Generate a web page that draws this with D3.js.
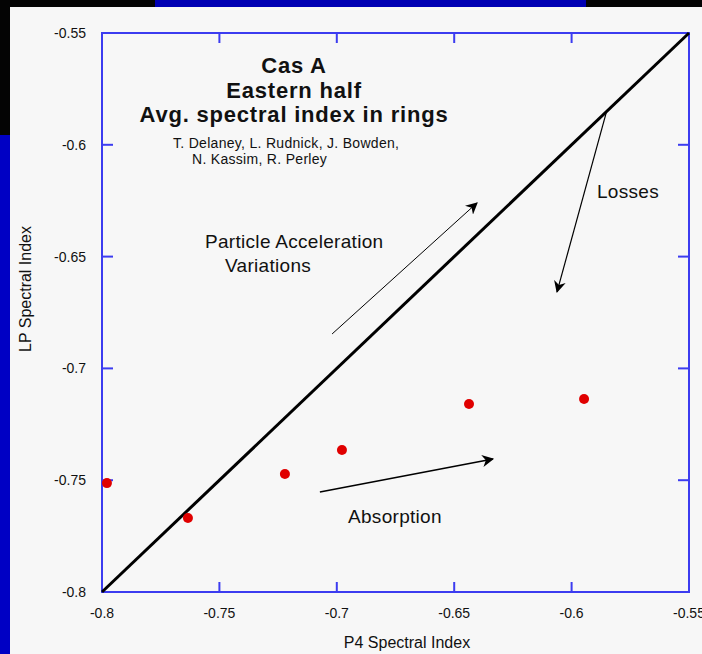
<!DOCTYPE html>
<html>
  <head>
    <title>Cas A spectral index</title>
    <script src="https://d3js.org/d3.v7.min.js"></script>
    <style>
      body { margin: 0; background: #040404; }
      svg { display: block; }
      text { font-family: "Liberation Sans", Arial, sans-serif; fill: #111; }
    </style>
  </head>

  <body>
    <svg width="702" height="654"></svg>

    <script type="text/javascript">
      // ring averages (P4 vs LP spectral index)
      var p4Index = [-0.7979, -0.7634, -0.7221, -0.6978, -0.6437, -0.5947];
      var lpIndex = [-0.7513, -0.7669, -0.7472, -0.7365, -0.7159, -0.7137];

      var tickValues = [-0.8, -0.75, -0.7, -0.65, -0.6, -0.55];
      var tickLabels = ["-0.8", "-0.75", "-0.7", "-0.65", "-0.6", "-0.55"];

      var titleLines = ["Cas A", "Eastern half", "Avg. spectral index in rings"];
      var authorLines = ["T. Delaney, L. Rudnick, J. Bowden,", "N. Kassim, R. Perley"];

      // annotation arrows in data units: [x1, y1, x2, y2]
      var accelArrow = [-0.702, -0.6846, -0.6403, -0.626];
      var lossArrow = [-0.5853, -0.5858, -0.6062, -0.6658];
      var absorbArrow = [-0.7072, -0.7553, -0.6335, -0.7405];

      var svg = d3.select("svg");

      // background panels
      svg.append("rect").attr("x", 155).attr("y", 0).attr("width", 431).attr("height", 7).attr("fill", "#0000b4");
      svg.append("rect").attr("x", 0).attr("y", 135).attr("width", 10).attr("height", 519).attr("fill", "#0000c4");
      svg.append("rect").attr("x", 10).attr("y", 7).attr("width", 692).attr("height", 647).attr("fill", "#f7f7f7");

      var pLeft = 102, pTop = 33, pRight = 689, pBottom = 592;
      var x = d3.scaleLinear().domain([-0.8, -0.55]).range([pLeft, pRight]);
      var y = d3.scaleLinear().domain([-0.8, -0.55]).range([pBottom, pTop]);

      var axisColor = "#3c3cf0";

      // frame
      svg.append("rect")
        .attr("x", pLeft).attr("y", pTop)
        .attr("width", pRight - pLeft).attr("height", pBottom - pTop)
        .attr("fill", "none").attr("stroke", axisColor).attr("stroke-width", 2);

      // inward ticks on all four sides
      var inner = tickValues.slice(1, -1);
      var tk = svg.append("g").attr("stroke", axisColor).attr("stroke-width", 2);
      inner.forEach(function (v) {
        tk.append("line").attr("x1", x(v)).attr("x2", x(v)).attr("y1", pBottom).attr("y2", pBottom - 10);
        tk.append("line").attr("x1", x(v)).attr("x2", x(v)).attr("y1", pTop).attr("y2", pTop + 10);
        tk.append("line").attr("y1", y(v)).attr("y2", y(v)).attr("x1", pLeft).attr("x2", pLeft + 11);
        tk.append("line").attr("y1", y(v)).attr("y2", y(v)).attr("x1", pRight).attr("x2", pRight - 11);
      });

      // tick labels
      tickValues.forEach(function (v, i) {
        svg.append("text")
          .attr("x", x(v)).attr("y", 618)
          .attr("text-anchor", "middle")
          .style("font-size", "14px")
          .text(tickLabels[i]);
        svg.append("text")
          .attr("x", 86).attr("y", y(v) + 5)
          .attr("text-anchor", "end")
          .style("font-size", "14px")
          .text(tickLabels[i]);
      });

      // axis titles
      svg.append("text")
        .attr("x", 407).attr("y", 648)
        .attr("text-anchor", "middle")
        .style("font-size", "16px")
        .text("P4 Spectral Index");
      svg.append("text")
        .attr("transform", "translate(31,289) rotate(-90)")
        .attr("text-anchor", "middle")
        .style("font-size", "16px")
        .text("LP Spectral Index");

      // y = x reference line
      svg.append("line")
        .attr("x1", x(-0.8)).attr("y1", y(-0.8))
        .attr("x2", x(-0.55)).attr("y2", y(-0.55))
        .attr("stroke", "#000").attr("stroke-width", 3);

      // arrows
      svg.append("defs").append("marker")
        .attr("id", "head")
        .attr("viewBox", "0 0 10 10")
        .attr("refX", 9).attr("refY", 5)
        .attr("markerWidth", 12).attr("markerHeight", 12)
        .attr("markerUnits", "userSpaceOnUse")
        .attr("orient", "auto")
        .append("path")
        .attr("d", "M0,0 L10,5 L0,10 L3,5 Z")
        .attr("fill", "#000");

      function arrow(a, w) {
        svg.append("line")
          .attr("x1", x(a[0])).attr("y1", y(a[1]))
          .attr("x2", x(a[2])).attr("y2", y(a[3]))
          .attr("stroke", "#000").attr("stroke-width", w)
          .attr("marker-end", "url(#head)");
      }
      arrow(accelArrow, 1);
      arrow(lossArrow, 1.2);
      arrow(absorbArrow, 1.6);

      // points
      svg.append("g").selectAll("circle")
        .data(p4Index)
        .enter()
        .append("circle")
        .attr("cx", function (d) { return x(d); })
        .attr("cy", function (d, i) { return y(lpIndex[i]); })
        .attr("r", 5)
        .attr("fill", "#e00000");

      // titles
      titleLines.forEach(function (t, i) {
        svg.append("text")
          .attr("x", 294).attr("y", 73 + i * 24.5)
          .attr("text-anchor", "middle")
          .style("font-size", "22px").style("font-weight", "bold")
          .style("letter-spacing", "0.8px")
          .text(t);
      });
      authorLines.forEach(function (t, i) {
        svg.append("text")
          .attr("x", i === 0 ? 173 : 192).attr("y", 148 + i * 16)
          .style("font-size", "14px")
          .style("letter-spacing", "0.3px")
          .text(t);
      });

      // annotation labels
      function note(t, px, py) {
        svg.append("text").attr("x", px).attr("y", py)
          .style("font-size", "19px").style("letter-spacing", "0.3px")
          .text(t);
      }
      note("Particle Acceleration", 205, 248);
      note("Variations", 225, 272);
      note("Losses", 597, 198);
      note("Absorption", 348, 523);
    </script>
  </body>
</html>
